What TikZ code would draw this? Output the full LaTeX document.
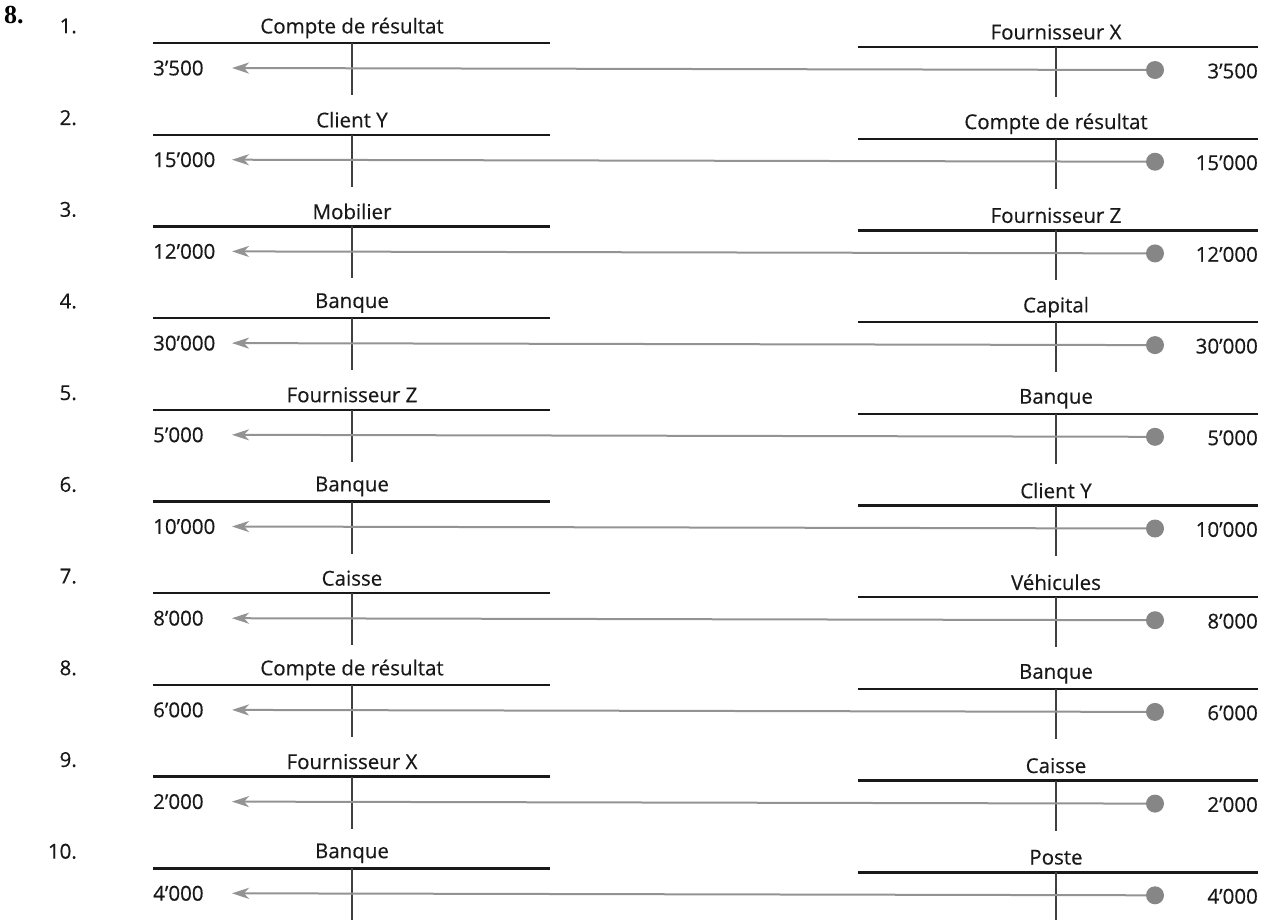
\documentclass[tikz,border=0pt]{standalone}
\usepackage{fontspec}
\setmainfont{Open Sans}[FakeBold=0.4]
\newfontfamily\titrefont{Liberation Serif}
\usetikzlibrary{arrows.meta}

\tikzset{
  compte/.style={font=\fontsize{20.5}{24}\selectfont, text=black!90, inner sep=0pt},
  trait/.style={line width=2.4pt, black!90},
  axe/.style={line width=1.3pt, black!75},
  fleche/.style={line width=2pt, gray!85, -{Stealth[length=17pt,width=11pt,inset=5pt]}},
  point/.style={circle, fill=gray!95, minimum size=18pt, inner sep=0pt},
}

\begin{document}
\begin{tikzpicture}[x=1pt,y=-1pt]
\useasboundingbox (0,0) rectangle (1272,919);
\node[anchor=west, inner sep=0pt, font=\titrefont\bfseries\fontsize{26}{30}\selectfont] (exo) at (4,15) {8.};
\foreach \i/\gauche/\droite/\mont in {
  1/Compte de résultat/Fournisseur X/3’500,
  2/Client Y/Compte de résultat/15’000,
  3/Mobilier/Fournisseur Z/12’000,
  4/Banque/Capital/30’000,
  5/Fournisseur Z/Banque/5’000,
  6/Banque/Client Y/10’000,
  7/Caisse/Véhicules/8’000,
  8/Compte de résultat/Banque/6’000,
  9/Fournisseur X/Caisse/2’000,
  10/Banque/Poste/4’000}{
  \pgfmathsetmacro{\L}{43+91.7*(\i-1)}
  % numero et comptes
  \node[compte, anchor=east] (n\i) at (77,\L-17) {\i.};
  \node[compte] (g\i) at (352,\L-15) {\gauche};
  \node[compte] (d\i) at (1056,\L-11) {\droite};
  \draw[trait] (153,\L) -- (550,\L);
  \draw[axe] (352,\L) -- (352,\L+52);
  \draw[trait] (858,\L+4) -- (1258,\L+4);
  \draw[axe] (1056,\L+4) -- (1056,\L+54);
  % montants
  \node[compte, anchor=west] (mg\i) at (153,\L+25) {\mont};
  \node[compte, anchor=east] (md\i) at (1258,\L+28) {\mont};
  % ecriture
  \node[point] (p\i) at (1155,\L+27) {};
  \coordinate (f\i) at (232,\L+25);
  \draw[fleche] (p\i) -- (f\i);
}
\end{tikzpicture}
\end{document}
